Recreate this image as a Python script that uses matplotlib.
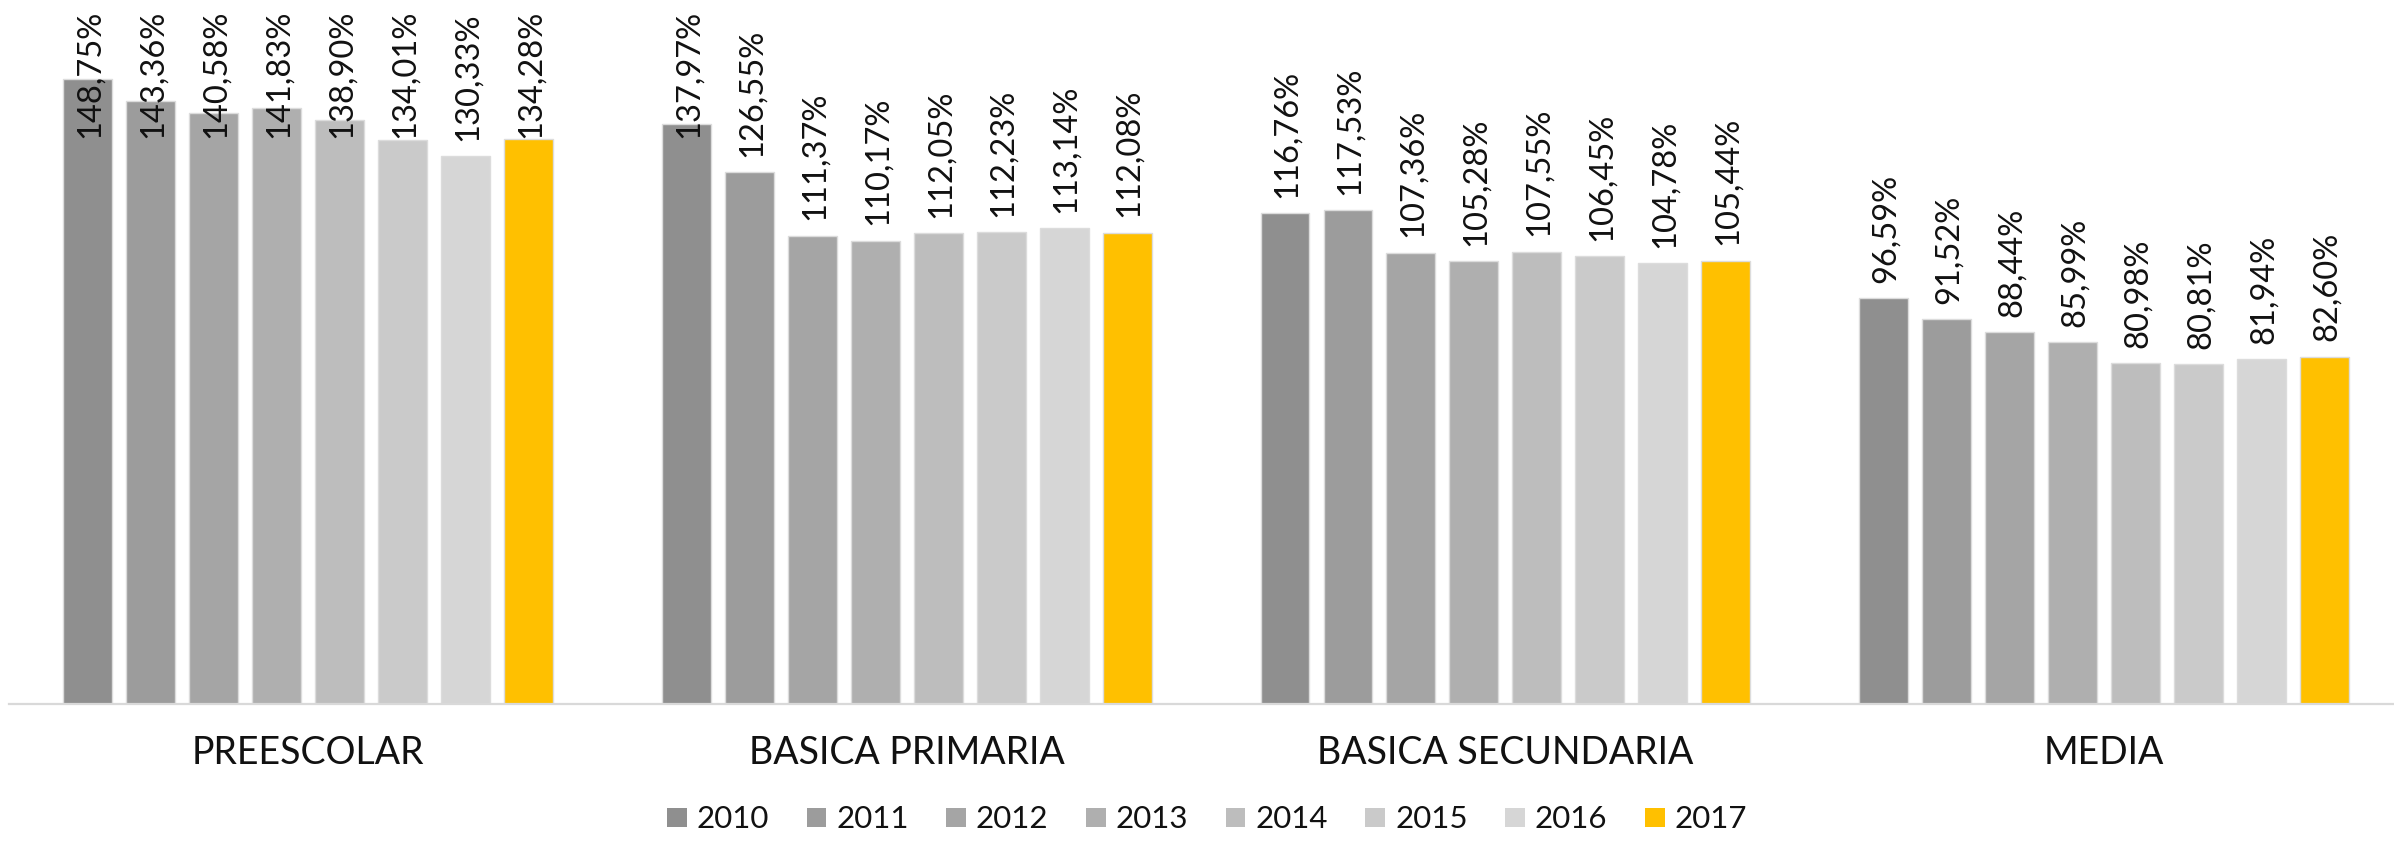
import matplotlib
matplotlib.use("Agg")
import matplotlib.pyplot as plt
import numpy as np

plt.rcParams['font.family'] = ['Lato', 'DejaVu Sans']

categories = ["PREESCOLAR", "BASICA PRIMARIA", "BASICA SECUNDARIA", "MEDIA"]
years = ["2010", "2011", "2012", "2013", "2014", "2015", "2016", "2017"]
v2010 = [148.75, 137.97, 116.76, 96.59]
v2011 = [143.36, 126.55, 117.53, 91.52]
v2012 = [140.58, 111.37, 107.36, 88.44]
v2013 = [141.83, 110.17, 105.28, 85.99]
v2014 = [138.90, 112.05, 107.55, 80.98]
v2015 = [134.01, 112.23, 106.45, 80.81]
v2016 = [130.33, 113.14, 104.78, 81.94]
v2017 = [134.28, 112.08, 105.44, 82.60]
series = [v2010, v2011, v2012, v2013, v2014, v2015, v2016, v2017]
colors = ["#8f8f8f", "#9c9c9c", "#a5a5a5", "#afafaf", "#bdbdbd", "#cacaca", "#d6d6d6", "#ffc000"]

W, H, DPI = 2394, 843, 100
fig = plt.figure(figsize=(W / DPI, H / DPI), dpi=DPI)
ax_left = 8.7 / W
ax_w = 4 * 598.7 / W
ax_bottom = (H - 704) / H
ax = fig.add_axes([ax_left, ax_bottom, ax_w, 1 - ax_bottom])

x = np.arange(len(categories))
bar_w = 0.0818
pitch = 0.1052
n = len(series)
labels = []
for i, (vals, c, yr) in enumerate(zip(series, colors, years)):
    xs = x + (i - (n - 1) / 2) * pitch
    ax.bar(xs, vals, width=bar_w, color=c, edgecolor="#dcdcdc", linewidth=1.0, label=yr, zorder=2)
    for xi, v in zip(xs, vals):
        txt = f"{v:.2f}".replace(".", ",") + "%"
        a = ax.annotate(txt, xy=(xi, v), xytext=(1.5, 11), textcoords="offset points",
                        rotation=90, ha="center", va="bottom", fontsize=23.5,
                        color="#111111", zorder=3, annotation_clip=False)
        labels.append(a)

ax.set_xlim(-0.5, 3.5)
ax.set_ylim(0, 704 / 4.205)
ax.set_xticks(x)
ax.set_xticklabels(categories, fontsize=27, color="#111111")
ax.tick_params(axis="x", length=0, pad=22)
ax.set_yticks([])
for s in ["top", "right", "left"]:
    ax.spines[s].set_visible(False)
ax.spines["bottom"].set_color("#d9d9d9")
ax.spines["bottom"].set_linewidth(1.6)

leg = fig.legend(loc="center", bbox_to_anchor=(1207 / W, 1 - 819.5 / H), ncol=8,
                 frameon=False, fontsize=22.5, handlelength=0.63, handleheight=0.6,
                 handletextpad=0.32, columnspacing=1.2, borderaxespad=0)
for t in leg.get_texts():
    t.set_color("#111111")
for h in leg.legend_handles:
    h.set_edgecolor("none")

# keep labels inside the figure (as in the original, where they overflow onto bars)
fig.canvas.draw()
r = fig.canvas.get_renderer()
top_limit = H - 10
for a in labels:
    bb = a.get_window_extent(r)
    if bb.y1 > top_limit:
        shift_px = bb.y1 - top_limit
        ox, oy = a.xyann
        a.xyann = (ox, oy - shift_px * 72 / DPI)

fig.savefig("out.png", dpi=DPI)
